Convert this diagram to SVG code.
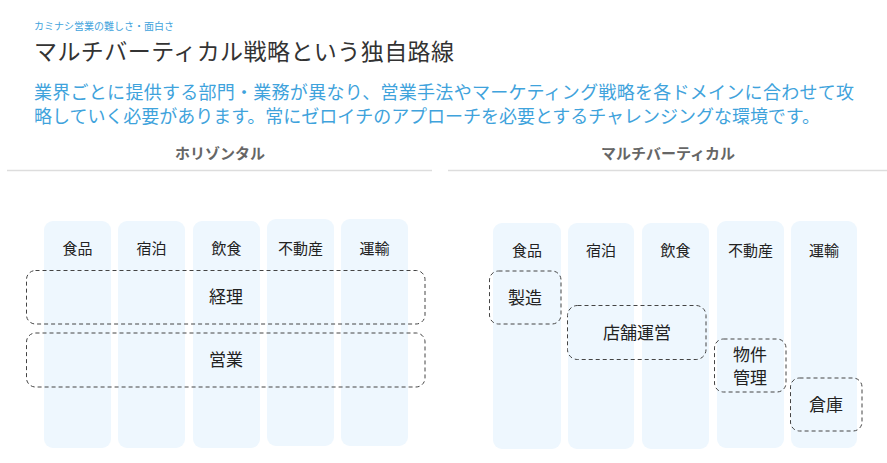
<svg xmlns="http://www.w3.org/2000/svg" width="887" height="463" viewBox="0 0 887 463">
<style>
text{font-family:"Noto Sans CJK JP","Noto Sans",sans-serif;}
.col{fill:#eef7fe;}
.lbl{font-size:15px;fill:#222;text-anchor:middle;}
.grp{fill:none;stroke:#444;stroke-width:1;stroke-dasharray:4 3;}
.glbl{font-size:17px;fill:#222;text-anchor:middle;}
.hdr{font-size:15px;font-weight:bold;fill:#666;text-anchor:middle;}
.rule{stroke:#ddd;stroke-width:1.5;}
</style>
<rect width="887" height="463" fill="#fff"/>
<text x="34" y="30" font-size="10" fill="#3fa3dc">カミナシ営業の難しさ・面白さ</text>
<text x="34" y="60" font-size="23" fill="#333" textLength="420">マルチバーティカル戦略という独自路線</text>
<text x="34" y="99" font-size="18" fill="#3fa3dc" textLength="820">業界ごとに提供する部門・業務が異なり、営業手法やマーケティング戦略を各ドメインに合わせて攻</text>
<text x="34" y="123" font-size="18" fill="#3fa3dc" textLength="786">略していく必要があります。常にゼロイチのアプローチを必要とするチャレンジングな環境です。</text>

<text class="hdr" x="220" y="159">ホリゾンタル</text>
<line class="rule" x1="7" y1="170.5" x2="432" y2="170.5"/>
<text class="hdr" x="668" y="159">マルチバーティカル</text>
<line class="rule" x1="448" y1="170.5" x2="887" y2="170.5"/>

<g id="horizontal">
<g id="h-food"><rect class="col" x="44" y="221" width="67" height="227" rx="9"/><text class="lbl" x="77.5" y="254">食品</text></g>
<g id="h-stay"><rect class="col" x="118" y="221" width="67" height="227" rx="9"/><text class="lbl" x="151.5" y="254">宿泊</text></g>
<g id="h-dining"><rect class="col" x="193" y="221" width="67" height="227" rx="9"/><text class="lbl" x="226.5" y="254">飲食</text></g>
<g id="h-realestate"><rect class="col" x="267" y="219" width="67" height="227" rx="9"/><text class="lbl" x="300.5" y="254">不動産</text></g>
<g id="h-transport"><rect class="col" x="341" y="219" width="67" height="227" rx="9"/><text class="lbl" x="374.5" y="254">運輸</text></g>
<g id="h-accounting"><rect class="grp" x="26.5" y="270.5" width="398.5" height="53.5" rx="9"/><text class="glbl" x="226" y="303">経理</text></g>
<g id="h-sales"><rect class="grp" x="26.5" y="333" width="398.5" height="54" rx="9"/><text class="glbl" x="226" y="366">営業</text></g>
</g>

<g id="multivertical">
<g id="m-food"><rect class="col" x="493" y="223" width="68" height="226" rx="9"/><text class="lbl" x="527" y="256">食品</text></g>
<g id="m-stay"><rect class="col" x="568" y="223" width="66" height="226" rx="9"/><text class="lbl" x="601" y="256">宿泊</text></g>
<g id="m-dining"><rect class="col" x="642" y="223" width="67" height="226" rx="9"/><text class="lbl" x="675.5" y="256">飲食</text></g>
<g id="m-realestate"><rect class="col" x="717" y="221" width="67" height="227" rx="9"/><text class="lbl" x="750.5" y="256">不動産</text></g>
<g id="m-transport"><rect class="col" x="791" y="221" width="66" height="227" rx="9"/><text class="lbl" x="824" y="256">運輸</text></g>
<g id="m-manufacturing"><rect class="grp" x="489.5" y="271" width="71.5" height="53" rx="9"/><text class="glbl" x="525" y="304">製造</text></g>
<g id="m-store"><rect class="grp" x="567.5" y="305.5" width="138.5" height="54" rx="10"/><text class="glbl" x="637" y="339">店舗運営</text></g>
<g id="m-property"><rect class="grp" x="714.5" y="339" width="71.5" height="53" rx="9"/><text class="glbl" x="750" y="361" font-size="16">物件</text><text class="glbl" x="750" y="384" font-size="16">管理</text></g>
<g id="m-warehouse"><rect class="grp" x="790.5" y="378" width="71.5" height="53" rx="9"/><text class="glbl" x="826" y="411">倉庫</text></g>
</g>
<g id="connectors"/>
</svg>
